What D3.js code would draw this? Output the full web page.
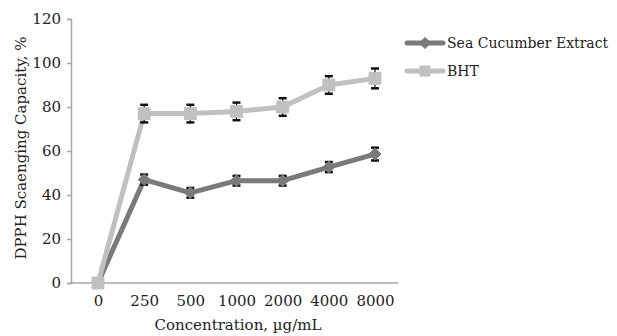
<!DOCTYPE html>
<html><head><meta charset="utf-8">
<script src="https://cdn.jsdelivr.net/npm/d3@7"></script>
<style>body{margin:0;background:#fff}svg text{font-family:"DejaVu Serif",serif;fill:#222}</style>
</head><body>
<svg id="c" width="617" height="336"></svg>
<script>
const categories = ["0","250","500","1000","2000","4000","8000"];
const seaCucumber = [0, 47, 41, 46.5, 46.5, 52.7, 58.6];
const seaCucumberErr = [0, 2.3, 2.2, 2.2, 2.2, 2.3, 2.9];
const bht = [0, 77, 77, 78, 80, 90, 93];
const bhtErr = [0, 4, 4, 4, 4, 4, 4.5];
const yTicks = [0,20,40,60,80,100,120];
const seriesNames = ["Sea Cucumber Extract","BHT"];

const svg = d3.select("#c");
const x = d3.scalePoint().domain(categories).range([98, 375]);
const y = d3.scaleLinear().domain([0,120]).range([283, 19]);
const axisColor = "#a6a6a6";

// y axis
const ya = svg.append("g").attr("transform","translate(71,0)")
  .call(d3.axisLeft(y).tickValues(yTicks).tickSize(4).tickPadding(6));
ya.select(".domain").attr("stroke",axisColor).attr("stroke-width",1.5);
ya.selectAll(".tick line").attr("stroke",axisColor).attr("stroke-width",1.5);
ya.selectAll("text").style("font-size","15px").attr("fill","#222");

// x axis
const xa = svg.append("g").attr("transform","translate(0,283)")
  .call(d3.axisBottom(x).tickSize(0).tickPadding(12));
xa.select(".domain").attr("d","M70,0H398").attr("stroke",axisColor).attr("stroke-width",1.5);
xa.selectAll("text").style("font-size","15px").attr("fill","#222");

svg.append("text").attr("x",238).attr("y",330).attr("text-anchor","middle")
  .style("font-size","15px").text("Concentration, µg/mL");
svg.append("text").attr("transform","translate(26,148) rotate(-90)").attr("text-anchor","middle")
  .style("font-size","15px").text("DPPH Scaenging Capacity, %");

const series = [
  {name: seriesNames[0], vals: seaCucumber, err: seaCucumberErr, color:"#7a7a7a", shape:d3.symbolDiamond2, size:90},
  {name: seriesNames[1], vals: bht, err: bhtErr, color:"#c0c0c0", shape:d3.symbolSquare2, size:180}
];
const line = d3.line().x((d,i)=>x(categories[i])).y(d=>y(d));

series.forEach(s=>{
  const g = svg.append("g");
  g.append("path").datum(s.vals).attr("d",line).attr("fill","none")
    .attr("stroke",s.color).attr("stroke-width",5).attr("stroke-linejoin","round");
  s.vals.forEach((v,i)=>{
    if(!s.err[i]) return;
    const cx = x(categories[i]);
    g.append("line").attr("x1",cx).attr("x2",cx).attr("y1",y(v+s.err[i])).attr("y2",y(v-s.err[i]))
      .attr("stroke","#111").attr("stroke-width",1.2);
    [v+s.err[i], v-s.err[i]].forEach(e=>{
      g.append("line").attr("x1",cx-4).attr("x2",cx+4).attr("y1",y(e)).attr("y2",y(e))
        .attr("stroke","#111").attr("stroke-width",2.5);
    });
  });
  g.selectAll("path.m").data(s.vals).join("path").attr("class","m")
    .attr("transform",(d,i)=>`translate(${x(categories[i])},${y(d)})`)
    .attr("d",d3.symbol().type(s.shape).size(s.size))
    .attr("fill",s.color).attr("stroke",s.color).attr("stroke-width",1);
});

// legend
const lg = svg.append("g");
series.forEach((s,i)=>{
  const ly = 43 + i*28;
  lg.append("line").attr("x1",407).attr("x2",443).attr("y1",ly).attr("y2",ly)
    .attr("stroke",s.color).attr("stroke-width",5).attr("stroke-linecap","round");
  lg.append("path").attr("transform",`translate(425,${ly})`)
    .attr("d",d3.symbol().type(s.shape).size(i===0?80:130)).attr("fill",s.color).attr("stroke",s.color);
  lg.append("text").attr("x",447).attr("y",ly).attr("dy","0.35em").style("font-size","14px").text(s.name);
});
</script>
</body></html>
